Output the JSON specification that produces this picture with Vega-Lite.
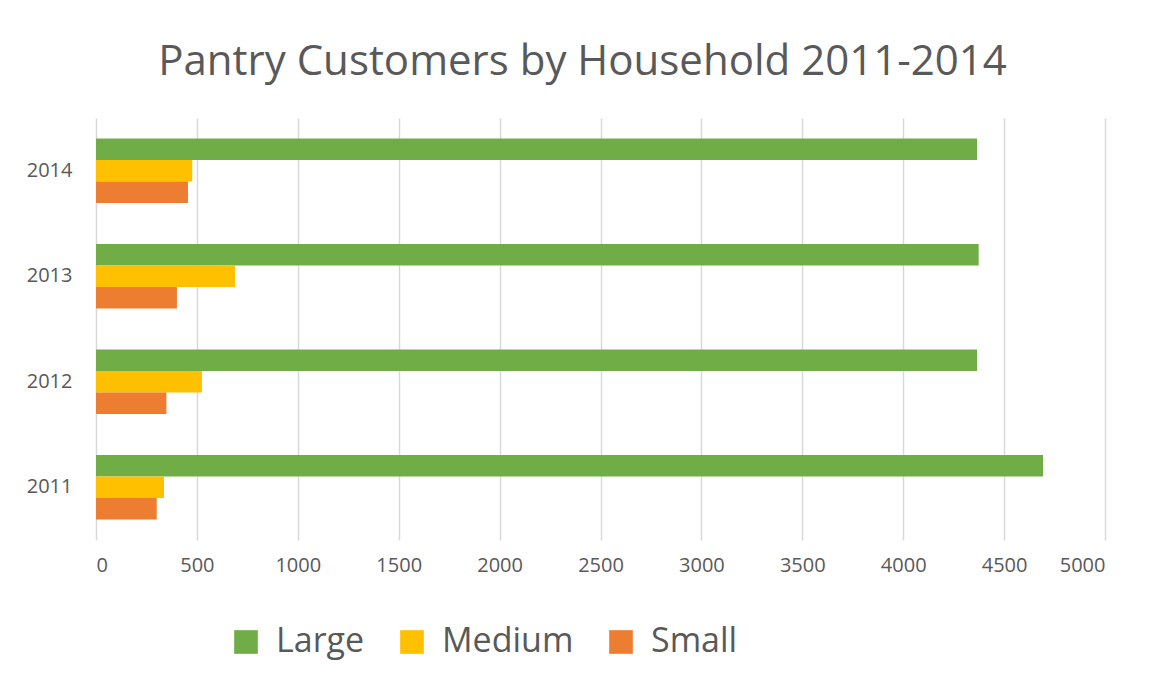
{
  "$schema": "https://vega.github.io/schema/vega-lite/v6.json",
  "width": 1009,
  "height": 422,
  "autosize": {"type": "none"},
  "padding": {"left": 96, "top": 118, "right": 45, "bottom": 135},
  "background": "white",
  "title": {
    "text": "Pantry Customers by Household 2011-2014",
    "fontSize": 42,
    "font": "Open Sans",
    "fontWeight": "normal",
    "color": "#595959",
    "anchor": "middle",
    "dx": -18,
    "offset": 34
  },
  "data": {
    "values": [
      {"year": "2014", "size": "Large", "value": 4366},
      {"year": "2014", "size": "Medium", "value": 477},
      {"year": "2014", "size": "Small", "value": 456},
      {"year": "2013", "size": "Large", "value": 4374},
      {"year": "2013", "size": "Medium", "value": 689},
      {"year": "2013", "size": "Small", "value": 401},
      {"year": "2012", "size": "Large", "value": 4366},
      {"year": "2012", "size": "Medium", "value": 525},
      {"year": "2012", "size": "Small", "value": 349},
      {"year": "2011", "size": "Large", "value": 4693},
      {"year": "2011", "size": "Medium", "value": 337},
      {"year": "2011", "size": "Small", "value": 301}
    ]
  },
  "mark": {"type": "bar"},
  "encoding": {
    "y": {
      "field": "year",
      "type": "nominal",
      "sort": ["2014", "2013", "2012", "2011"],
      "scale": {"paddingInner": 0.39, "paddingOuter": 0.195},
      "axis": {
        "title": null,
        "ticks": false,
        "domain": false,
        "labelFontSize": 20,
        "labelFont": "Open Sans",
        "labelColor": "#595959",
        "labelPadding": 24
      }
    },
    "yOffset": {
      "field": "size",
      "type": "nominal",
      "sort": ["Large", "Medium", "Small"],
      "scale": {"paddingInner": 0, "paddingOuter": 0}
    },
    "x": {
      "field": "value",
      "type": "quantitative",
      "scale": {"domain": [0, 5000], "nice": false},
      "axis": {
        "title": null,
        "values": [0, 500, 1000, 1500, 2000, 2500, 3000, 3500, 4000, 4500, 5000],
        "format": "d",
        "ticks": false,
        "domain": false,
        "grid": true,
        "gridColor": "#d9d9d9",
        "gridWidth": 1.5,
        "labelFontSize": 20,
        "labelFont": "Open Sans",
        "labelColor": "#595959",
        "labelPadding": 15
      }
    },
    "color": {
      "field": "size",
      "type": "nominal",
      "sort": ["Large", "Medium", "Small"],
      "scale": {"domain": ["Large", "Medium", "Small"], "range": ["#70AD47", "#FFC000", "#ED7D31"]},
      "legend": {
        "title": null,
        "orient": "none",
        "direction": "horizontal",
        "legendX": 133,
        "legendY": 507,
        "symbolType": "square",
        "symbolSize": 560,
        "symbolStrokeWidth": 0,
        "labelFontSize": 34,
        "labelFont": "Open Sans",
        "labelColor": "#595959",
        "labelOffset": 13,
        "columnPadding": 30,
        "labelLimit": 300
      }
    }
  },
  "config": {
    "view": {"stroke": null}
  }
}
